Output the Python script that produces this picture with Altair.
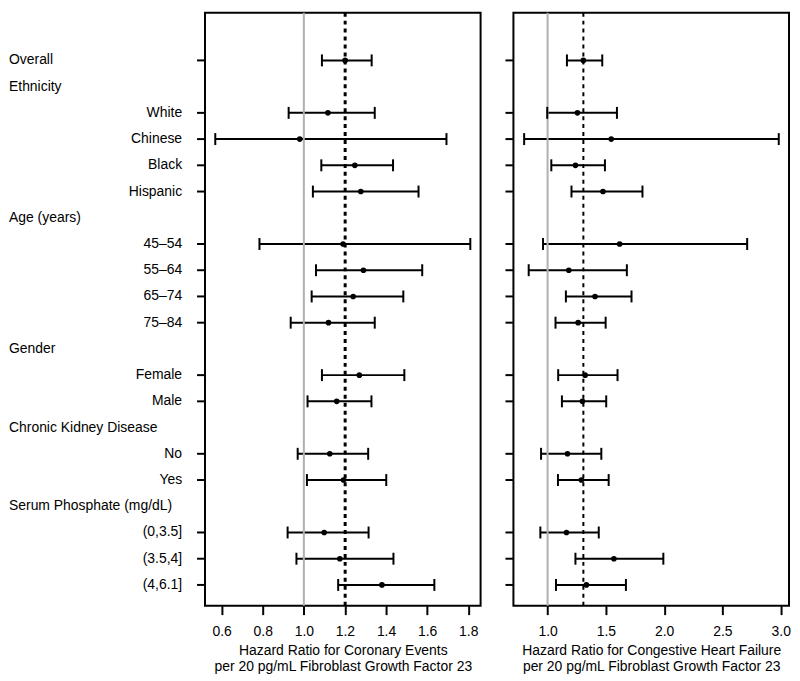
import altair as alt
import pandas as pd

FONT = "Liberation Sans"
FS = 14

row_labels = ["Overall", "Ethnicity", "White", "Chinese", "Black", "Hispanic",
              "Age (years)", "45–54", "55–64", "65–74", "75–84",
              "Gender", "Female", "Male",
              "Chronic Kidney Disease", "No", "Yes",
              "Serum Phosphate (mg/dL)", "(0,3.5]", "(3.5,4]", "(4,6.1]"]
header_rows = ["Ethnicity", "Age (years)", "Gender", "Chronic Kidney Disease",
               "Serum Phosphate (mg/dL)"]
left_aligned = ["Overall"] + header_rows
data_rows = [r for r in row_labels if r not in header_rows]

# Coronary events (left panel)
cor_hr = [1.201, 1.117, 0.980, 1.248, 1.277, 1.191, 1.290, 1.240, 1.120,
          1.270, 1.160, 1.126, 1.193, 1.099, 1.175, 1.380]
cor_lo = [1.088, 0.926, 0.569, 1.085, 1.044, 0.784, 1.059, 1.038, 0.936,
          1.088, 1.018, 0.970, 1.015, 0.921, 0.964, 1.167]
cor_hi = [1.330, 1.345, 1.694, 1.434, 1.558, 1.810, 1.576, 1.484, 1.345,
          1.489, 1.329, 1.313, 1.401, 1.315, 1.436, 1.635]

# Congestive heart failure (right panel)
chf_hr = [1.307, 1.256, 1.546, 1.239, 1.475, 1.618, 1.182, 1.407, 1.262,
          1.322, 1.299, 1.171, 1.290, 1.162, 1.569, 1.333]
chf_lo = [1.166, 0.997, 0.799, 1.032, 1.205, 0.961, 0.838, 1.157, 1.068,
          1.091, 1.123, 0.944, 1.089, 0.938, 1.239, 1.072]
chf_hi = [1.469, 1.595, 2.983, 1.492, 1.814, 2.712, 1.680, 1.720, 1.498,
          1.600, 1.503, 1.461, 1.524, 1.439, 1.993, 1.672]

cor_ticks = [0.6, 0.8, 1.0, 1.2, 1.4, 1.6, 1.8]
chf_ticks = [1.0, 1.5, 2.0, 2.5, 3.0]
cor_title = ["Hazard Ratio for Coronary Events",
             "per 20 pg/mL Fibroblast Growth Factor 23"]
chf_title = ["Hazard Ratio for Congestive Heart Failure",
             "per 20 pg/mL Fibroblast Growth Factor 23"]

row_idx = [row_labels.index(r) for r in data_rows]

W, H = 277, 596
Y_DOMAIN = [-1.82, 20.79]


def panel(hr, lo, hi, domain, ticks, title, dash_width, with_labels):
    df = pd.DataFrame({"row": row_idx, "label": data_rows,
                       "hr": hr, "lo": lo, "hi": hi})
    xs = alt.Scale(domain=domain, nice=False, zero=False)
    ys = alt.Scale(domain=Y_DOMAIN, reverse=True, nice=False, zero=False)
    xaxis = alt.Axis(values=ticks, format=".1f", title=title, grid=False,
                     domain=False, tickSize=9, tickWidth=2, tickColor="black",
                     labelFontSize=FS, labelFont=FONT, labelColor="black",
                     labelPadding=10, titleFontSize=FS, titleFont=FONT,
                     titleFontWeight="normal", titleColor="black",
                     titlePadding=5, titleLineHeight=16, labelFlush=False)
    base = alt.Chart(df)
    bars = base.mark_rule(color="black", strokeWidth=2).encode(
        x=alt.X("lo:Q", scale=xs, axis=xaxis),
        x2="hi:Q",
        y=alt.Y("row:Q", scale=ys, axis=None),
    )
    ref_df = pd.DataFrame({"lo": [1.0, hr[0]], "kind": ["null", "overall"]})
    gray = alt.Chart(ref_df).transform_filter("datum.kind == 'null'").mark_rule(
        color="#b0b0b0", strokeWidth=2).encode(x="lo:Q")
    dashed = alt.Chart(ref_df).transform_filter("datum.kind == 'overall'").mark_rule(
        color="black", strokeWidth=dash_width, strokeDash=[4, 4]).encode(x="lo:Q")
    cap_lo = base.mark_tick(orient="vertical", size=12, thickness=2,
                            color="black", opacity=1).encode(x="lo:Q", y="row:Q")
    cap_hi = base.mark_tick(orient="vertical", size=12, thickness=2,
                            color="black", opacity=1).encode(x="hi:Q", y="row:Q")
    pts = base.mark_circle(size=32, color="black", opacity=1).encode(
        x="hr:Q", y="row:Q")
    yticks = base.mark_tick(orient="horizontal", size=8, thickness=2,
                            color="black", opacity=1).encode(
        x=alt.value(-4), y="row:Q")
    layers = [bars, gray, dashed, cap_lo, cap_hi, pts, yticks]
    if with_labels:
        lab_df = pd.DataFrame({"row": list(range(len(row_labels))),
                               "label": row_labels,
                               "left": [r in left_aligned for r in row_labels]})
        left_txt = alt.Chart(lab_df).transform_filter("datum.left").mark_text(
            align="left", baseline="middle", font=FONT, fontSize=FS,
            color="black").encode(x=alt.value(-197), y="row:Q", text="label:N")
        right_txt = alt.Chart(lab_df).transform_filter("!datum.left").mark_text(
            align="right", baseline="middle", font=FONT, fontSize=FS,
            color="black").encode(x=alt.value(-23), y="row:Q", text="label:N")
        layers += [left_txt, right_txt]
    return alt.layer(*layers).properties(width=W, height=H)


left = panel(cor_hr, cor_lo, cor_hi, [0.519, 1.860], cor_ticks, cor_title, 3, True)
right = panel(chf_hr, chf_lo, chf_hi, [0.707, 3.071], chf_ticks, chf_title, 2, False)

chart = alt.hconcat(left, right, spacing=23).properties(
    padding={"left": 0, "top": 0, "right": 0, "bottom": 0}
).configure_view(stroke="black", strokeWidth=2)

chart.save("out.html", embed_options={"renderer": "svg", "actions": False})
